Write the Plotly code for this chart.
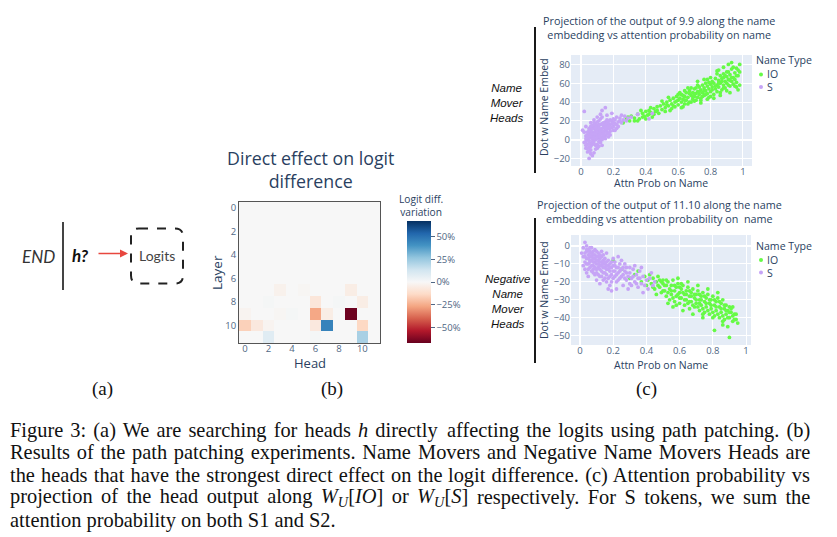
import plotly.graph_objects as go

# the page body keeps an 8px margin, so the figure is drawn 8px smaller
# and every position below is given in page pixels of the final picture
OFF = 8
W, H = 837 - OFF, 537 - OFF


def fx(p):
    return (p - OFF) / W


def fy(p):
    return 1 - (p - OFF) / H


# ---- (b) heatmap: direct effect per head, in percent ----
layers = list(range(12))
heads = list(range(12))
effect = [
    [0, 0, 0, 0, 0, 0, 0, 0, 0, 0, 0, 0],
    [0, 0, 0, 0, 0, 0, 0, 0, 0, 0, 0, 0],
    [0, 0, 0, 0, 0, 0, 0, 0, 0, 0, 0, 0],
    [0, 0, 0, 0, 0, 0, 0, 0, 0, 0, 0, 0],
    [0, 0, 0, 0, 0, 0, 0, 0, 0, 0, 0, 0],
    [0, 0, 0, 0, 0, 0, 0, 0, 0, 0, 0, 0],
    [0, 0, 0, 0, 0, 0, 0, 0, 0, 0, 0, 0],
    [0, 0, 0, -3, 0, -1, 0, 0, 0, -5, 0, 0],
    [0, 0, 1, 0, 0, 0, -8, 0, 1, 0, -5, 0],
    [-2, 0, 0, -1, 1, 0, -26, -5, 0, -66, 0, 0],
    [-16, -7, -2, 0, 0, 0, -7, 45, 0, 0, -14, 0],
    [0, 0, 8, 0, 0, 0, 1, 0, 0, 0, 22, 0],
]
cbar_ticks = [-50, -25, 0, 25, 50]
cbar_text = ["\u221250%", "\u221225%", "0%", "25%", "50%"]

# ---- (c) top: head 9.9, (attn prob, dot with name embed) ----
nm_io = [
    (0.26, 18), (0.28, 22), (0.30, 20), (0.31, 25), (0.33, 23), (0.35, 27), (0.36, 22), (0.38, 28), (0.39, 25), (0.40, 30),
    (0.41, 26), (0.42, 31), (0.43, 29), (0.44, 24), (0.45, 33), (0.46, 30), (0.47, 35), (0.48, 28), (0.49, 36), (0.50, 32),
    (0.51, 38), (0.52, 34), (0.53, 40), (0.54, 36), (0.55, 31), (0.55, 42), (0.56, 38), (0.57, 44), (0.58, 35), (0.58, 40),
    (0.59, 46), (0.60, 42), (0.60, 37), (0.61, 44), (0.62, 40), (0.62, 48), (0.63, 43), (0.64, 38), (0.64, 46), (0.65, 50),
    (0.65, 42), (0.66, 45), (0.67, 40), (0.67, 52), (0.68, 47), (0.69, 43), (0.69, 50), (0.70, 46), (0.70, 54), (0.71, 49),
    (0.71, 42), (0.72, 51), (0.72, 45), (0.73, 56), (0.73, 48), (0.74, 53), (0.74, 44), (0.75, 50), (0.75, 58), (0.76, 47),
    (0.76, 55), (0.77, 52), (0.77, 60), (0.78, 49), (0.78, 57), (0.79, 54), (0.79, 45), (0.80, 59), (0.80, 51), (0.81, 62),
    (0.81, 56), (0.82, 48), (0.82, 60), (0.83, 54), (0.83, 65), (0.84, 58), (0.84, 51), (0.85, 63), (0.85, 56), (0.86, 68),
    (0.86, 60), (0.87, 53), (0.87, 65), (0.88, 58), (0.88, 70), (0.89, 62), (0.89, 55), (0.90, 67), (0.90, 60), (0.91, 72),
    (0.91, 64), (0.92, 57), (0.92, 69), (0.93, 62), (0.93, 75), (0.94, 66), (0.94, 59), (0.95, 71), (0.95, 64), (0.96, 56),
    (0.96, 76), (0.97, 68), (0.97, 53), (0.98, 80), (0.93, 82), (0.91, 80), (0.88, 77), (0.85, 74), (0.96, 61), (0.98, 72),
    (0.35, 20), (0.40, 22), (0.45, 27), (0.52, 30), (0.57, 36), (0.63, 35), (0.68, 40), (0.74, 42), (0.80, 46), (0.86, 50),
    (0.37, 31), (0.43, 34), (0.50, 41), (0.54, 45), (0.61, 50), (0.66, 55), (0.72, 58), (0.78, 64), (0.84, 70), (0.90, 52),
    (0.60, 48), (0.62, 34), (0.64, 52), (0.66, 38), (0.68, 55), (0.70, 41), (0.72, 62), (0.74, 39), (0.76, 64), (0.78, 43),
    (0.80, 66), (0.82, 44), (0.84, 73), (0.86, 47), (0.88, 66), (0.90, 72), (0.92, 50), (0.94, 77), (0.96, 68), (0.98, 58),
    (0.59, 41), (0.63, 47), (0.67, 49), (0.71, 55), (0.75, 46), (0.79, 61), (0.83, 57), (0.87, 62), (0.91, 58), (0.95, 57),
    (0.69, 46), (0.73, 51), (0.77, 48), (0.81, 53), (0.85, 60), (0.89, 68), (0.93, 66), (0.97, 74), (0.88, 55), (0.92, 63),
    (0.56, 33), (0.53, 37), (0.47, 31), (0.42, 27), (0.38, 24), (0.33, 20), (0.29, 24), (0.64, 42), (0.70, 49), (0.76, 52),
]
nm_s = [
    (0.03, -2), (0.04, 5), (0.05, -8), (0.05, 3), (0.06, 10), (0.06, -4), (0.07, 1), (0.07, 8), (0.08, -1), (0.08, 12),
    (0.09, 4), (0.09, -6), (0.10, 6), (0.10, 15), (0.11, 2), (0.11, 9), (0.12, 11), (0.12, -3), (0.13, 7), (0.13, 17),
    (0.14, 5), (0.14, 13), (0.15, 10), (0.15, 19), (0.16, 8), (0.16, 14), (0.17, 12), (0.18, 16), (0.18, 9), (0.19, 20),
    (0.20, 14), (0.20, 22), (0.21, 17), (0.22, 12), (0.23, 19), (0.24, 23), (0.25, 18), (0.26, 21), (0.27, 25), (0.28, 20),
    (0.02, 30), (0.15, 34), (0.13, 31), (0.05, -20), (0.07, -17), (0.04, -13), (0.06, -11), (0.03, -9), (0.08, -14), (0.10, -9),
    (0.04, 0), (0.05, 7), (0.06, 2), (0.07, -5), (0.08, 5), (0.09, 9), (0.10, 1), (0.11, -2), (0.12, 6), (0.13, 3),
    (0.03, 4), (0.04, -5), (0.06, 6), (0.07, 12), (0.08, 8), (0.09, 0), (0.10, 11), (0.11, 13), (0.12, 16), (0.14, 9),
    (0.15, 4), (0.16, 18), (0.17, 7), (0.18, 21), (0.19, 13), (0.21, 10), (0.22, 24), (0.09, 17), (0.11, 20), (0.13, 24),
    (0.02, -3), (0.02, 8), (0.03, 14), (0.05, 12), (0.06, 18), (0.08, 21), (0.10, 24), (0.12, 27), (0.16, 26), (0.19, 28),
    (0.04, 2), (0.05, -1), (0.06, -7), (0.07, 4), (0.08, -4), (0.09, 11), (0.10, 3), (0.11, 6), (0.12, 0), (0.14, 15),
    (0.16, 11), (0.17, 17), (0.23, 14), (0.25, 26), (0.29, 23), (0.31, 24), (0.42, 22), (0.44, 28), (0.35, 27), (0.01, 10),
    (0.04, 8), (0.05, 10), (0.05, -4), (0.06, 4), (0.06, 14), (0.07, 6), (0.07, -2), (0.08, 2), (0.08, 15), (0.09, 6),
    (0.09, 13), (0.10, 8), (0.10, -5), (0.11, 4), (0.11, 16), (0.12, 9), (0.12, 3), (0.13, 12), (0.13, 0), (0.14, 7),
    (0.14, 18), (0.15, 13), (0.15, 1), (0.16, 6), (0.16, 21), (0.17, 14), (0.17, 3), (0.18, 12), (0.19, 17), (0.20, 10),
    (0.03, 1), (0.03, -6), (0.04, -9), (0.05, -12), (0.06, -15), (0.07, 15), (0.08, 18), (0.09, -10), (0.10, 19), (0.11, -7),
    (0.12, 22), (0.13, -6), (0.14, 2), (0.15, 16), (0.17, 20), (0.18, 5), (0.20, 18), (0.21, 21), (0.22, 16), (0.24, 20),
]

# ---- (c) bottom: head 11.10 ----
nnm_io = [
    (0.20, -8), (0.25, -13), (0.30, -18), (0.33, -16), (0.35, -14), (0.37, -20), (0.39, -17), (0.40, -22), (0.41, -19), (0.42, -16),
    (0.43, -21), (0.44, -18), (0.45, -24), (0.46, -20), (0.47, -17), (0.48, -23), (0.49, -26), (0.50, -21), (0.50, -19), (0.51, -25),
    (0.52, -22), (0.52, -28), (0.53, -20), (0.54, -24), (0.54, -30), (0.55, -22), (0.55, -27), (0.56, -19), (0.57, -25), (0.57, -31),
    (0.58, -23), (0.58, -28), (0.59, -21), (0.60, -26), (0.60, -32), (0.61, -24), (0.61, -29), (0.62, -22), (0.63, -27), (0.63, -33),
    (0.64, -25), (0.64, -30), (0.65, -23), (0.66, -28), (0.66, -35), (0.67, -26), (0.67, -31), (0.68, -24), (0.69, -29), (0.69, -34),
    (0.70, -27), (0.70, -32), (0.71, -25), (0.72, -30), (0.72, -36), (0.73, -28), (0.73, -33), (0.74, -26), (0.75, -31), (0.75, -37),
    (0.76, -29), (0.76, -34), (0.77, -27), (0.78, -32), (0.78, -38), (0.79, -30), (0.79, -35), (0.80, -28), (0.81, -33), (0.81, -39),
    (0.82, -31), (0.82, -36), (0.83, -29), (0.84, -34), (0.84, -40), (0.85, -32), (0.85, -37), (0.86, -30), (0.87, -35), (0.87, -41),
    (0.88, -33), (0.88, -38), (0.89, -36), (0.90, -34), (0.90, -40), (0.91, -37), (0.92, -42), (0.93, -38), (0.94, -41), (0.95, -43),
    (0.81, -47), (0.90, -51), (0.86, -44), (0.92, -34), (0.89, -45), (0.53, -32), (0.56, -34), (0.62, -36), (0.68, -38), (0.74, -40),
    (0.46, -27), (0.48, -19), (0.59, -18), (0.65, -20), (0.71, -22), (0.77, -24), (0.83, -26), (0.60, -23), (0.66, -25), (0.72, -27),
    (0.50, -25), (0.51, -22), (0.53, -26), (0.55, -25), (0.56, -29), (0.57, -22), (0.59, -27), (0.60, -29), (0.62, -26), (0.63, -30),
    (0.64, -27), (0.65, -32), (0.66, -31), (0.67, -28), (0.68, -33), (0.69, -27), (0.70, -30), (0.71, -34), (0.72, -32), (0.73, -30),
    (0.74, -35), (0.75, -28), (0.76, -32), (0.77, -36), (0.78, -30), (0.79, -33), (0.80, -37), (0.81, -30), (0.82, -34), (0.83, -38),
    (0.84, -31), (0.85, -35), (0.86, -39), (0.87, -33), (0.88, -36), (0.89, -40), (0.90, -37), (0.91, -35), (0.92, -39), (0.93, -41),
    (0.44, -23), (0.47, -22), (0.49, -20), (0.52, -19), (0.58, -33), (0.61, -21), (0.74, -38), (0.80, -40), (0.86, -42), (0.94, -38),
]
nnm_s = [
    (0.02, -1), (0.02, -6), (0.03, 2), (0.03, -4), (0.03, -9), (0.04, 0), (0.04, -3), (0.04, -7), (0.05, -2), (0.05, -5),
    (0.05, -10), (0.06, -1), (0.06, -6), (0.06, -12), (0.07, -4), (0.07, -8), (0.07, -14), (0.08, -3), (0.08, -7), (0.08, -11),
    (0.09, -5), (0.09, -9), (0.09, -16), (0.10, -6), (0.10, -10), (0.10, -13), (0.11, -4), (0.11, -8), (0.11, -12), (0.12, -7),
    (0.12, -11), (0.12, -17), (0.13, -6), (0.13, -9), (0.13, -14), (0.14, -8), (0.14, -12), (0.14, -19), (0.15, -7), (0.15, -10),
    (0.15, -15), (0.16, -9), (0.16, -13), (0.16, -20), (0.17, -11), (0.17, -8), (0.18, -14), (0.18, -10), (0.18, -22), (0.19, -12),
    (0.19, -16), (0.20, -11), (0.20, -18), (0.20, -7), (0.21, -14), (0.22, -12), (0.22, -20), (0.23, -15), (0.24, -10), (0.24, -18),
    (0.25, -13), (0.26, -16), (0.26, -22), (0.27, -14), (0.28, -19), (0.28, -12), (0.29, -17), (0.30, -21), (0.30, -15), (0.31, -18),
    (0.32, -13), (0.33, -20), (0.34, -16), (0.35, -23), (0.35, -18), (0.36, -14), (0.37, -21), (0.38, -17), (0.38, -26), (0.40, -19),
    (0.41, -24), (0.42, -18), (0.44, -22), (0.19, -25), (0.17, -24), (0.22, -24), (0.12, -21), (0.10, -19), (0.02, -11), (0.01, -4),
    (0.03, -13), (0.04, -15), (0.05, -17), (0.06, -3), (0.07, -1), (0.08, -15), (0.09, -2), (0.10, -3), (0.11, -16), (0.13, -3),
    (0.14, -5), (0.16, -4), (0.21, -9), (0.23, -6), (0.25, -8), (0.27, -10), (0.29, -24), (0.33, -11), (0.37, -12), (0.43, -15),
    (0.45, -20), (0.06, -8), (0.08, -5), (0.12, -9), (0.15, -12),
    (0.03, -6), (0.04, -10), (0.04, -2), (0.05, -7), (0.05, -13), (0.06, -4), (0.06, -9), (0.07, -6), (0.07, -11), (0.08, -9),
    (0.08, -13), (0.09, -7), (0.09, -12), (0.10, -8), (0.10, -15), (0.11, -10), (0.11, -6), (0.12, -13), (0.12, -5), (0.13, -11),
    (0.13, -17), (0.14, -10), (0.14, -15), (0.15, -9), (0.15, -18), (0.16, -11), (0.16, -16), (0.17, -13), (0.17, -18), (0.18, -12),
    (0.18, -17), (0.19, -9), (0.19, -20), (0.20, -14), (0.21, -17), (0.21, -11), (0.22, -16), (0.23, -19), (0.23, -12), (0.24, -14),
    (0.25, -17), (0.26, -12), (0.27, -18), (0.28, -15), (0.30, -12), (0.31, -22), (0.32, -17), (0.34, -21), (0.36, -18), (0.39, -22),
]

IO_COL = "rgb(102,250,70)"
S_COL = "rgb(198,164,246)"
INK = "#2a3f5f"
TICK = "#506784"
rdbu = ["rgb(103,0,31)", "rgb(178,24,43)", "rgb(214,96,77)", "rgb(244,165,130)",
        "rgb(253,219,199)", "rgb(247,247,247)", "rgb(209,229,240)", "rgb(146,197,222)",
        "rgb(67,147,195)", "rgb(33,102,172)", "rgb(5,48,97)"]

fig = go.Figure()

fig.add_trace(go.Heatmap(
    z=effect, x=heads, y=layers, colorscale=rdbu, zmin=-67, zmax=67,
    xaxis="x", yaxis="y",
    colorbar=dict(x=fx(407), xanchor="left", xpad=0, ypad=0, y=fy(343), yanchor="bottom",
                  len=122 / H, lenmode="fraction", thickness=24, outlinewidth=0,
                  tickvals=cbar_ticks, ticktext=cbar_text, ticks="outside", ticklen=4,
                  tickcolor=TICK, tickfont=dict(size=9.5, color=TICK)),
))

for pts, col, ax in [(nm_io, IO_COL, 2), (nm_s, S_COL, 2), (nnm_io, IO_COL, 3), (nnm_s, S_COL, 3)]:
    fig.add_trace(go.Scatter(
        x=[p[0] for p in pts], y=[p[1] for p in pts], mode="markers",
        marker=dict(color=col, size=3.8, line=dict(width=0)),
        xaxis="x%d" % ax, yaxis="y%d" % ax, showlegend=False,
    ))

tick_font = dict(size=9.5, color=TICK)
scatter_x = dict(gridcolor="white", zerolinecolor="white", zerolinewidth=2, dtick=0.2, tick0=0,
                 tickfont=tick_font, ticks="", ticklabelstandoff=-2)
scatter_y = dict(gridcolor="white", zerolinecolor="white", zerolinewidth=2, tickfont=tick_font, ticks="")

fig.update_layout(
    width=W, height=H, margin=dict(l=0, r=0, t=0, b=0),
    paper_bgcolor="white", plot_bgcolor="#E5ECF6", showlegend=False,
    font=dict(family="Open Sans", color=INK),
    xaxis=dict(domain=[fx(239), fx(380)], range=[-0.5, 11.5], tickvals=[0, 2, 4, 6, 8, 10],
               showgrid=False, zeroline=False, showline=True, mirror=True, linecolor="#555",
               linewidth=1, tickfont=dict(size=9.5, color=TICK), ticklabelstandoff=-3),
    yaxis=dict(domain=[fy(343), fy(202)], range=[11.5, -0.5], tickvals=[0, 2, 4, 6, 8, 10],
               showgrid=False, zeroline=False, showline=True, mirror=True, linecolor="#555",
               linewidth=1, tickfont=dict(size=9.5, color=TICK)),
    xaxis2=dict(domain=[fx(571), fx(752)], range=[-0.062, 1.056], anchor="y2", **scatter_x),
    yaxis2=dict(domain=[fy(166), fy(55)], range=[-28, 90], dtick=20, anchor="x2", **scatter_y),
    xaxis3=dict(domain=[fx(571), fx(751)], range=[-0.054, 1.03], anchor="y3", **scatter_x),
    yaxis3=dict(domain=[fy(345), fy(235)], range=[-55.2, 6.1], dtick=10, anchor="x3", **scatter_y),
)

ann = []
shapes = []


def text(x, y, s, size, color=INK, family="Open Sans", anchor="center", angle=0):
    ann.append(dict(x=max(fx(x), 0), y=fy(y), xref="paper", yref="paper", text=s, showarrow=False,
                    xanchor=anchor, yanchor="middle", textangle=angle,
                    font=dict(size=size, color=color, family=family)))


# (b) titles
text(310, 169.5, "Direct effect on logit<br>difference", 17.8)
text(217, 273, "Layer", 13.5, angle=-90)
text(310, 363, "Head", 13)
text(421, 205, "Logit diff.<br>variation", 10.2)

# (c) titles, axis titles and legends
text(659, 27.5, "Projection of the output of 9.9 along the name<br>embedding vs attention probability on name", 10.8)
text(659, 211, "Projection of the output of 11.10 along the name<br>embedding vs attention probability on  name", 10.8)
text(544, 107, "Dot w Name Embed", 10.5, angle=-90)
text(661, 183.5, "Attn Prob on Name", 10.5)
text(544, 290, "Dot w Name Embed", 10.5, angle=-90)
text(661, 364.5, "Attn Prob on Name", 10.5)

for ly in [60.5, 246]:
    text(754, ly, "Name Type", 10.6, anchor="left")
    for dy, lab, col in [(14, "IO", IO_COL), (26.5, "S", S_COL)]:
        text(765, ly + dy, lab, 10.5, anchor="left")
        shapes.append(dict(type="circle", xref="paper", yref="paper",
                           x0=fx(759), x1=fx(763), y0=fy(ly + dy + 2), y1=fy(ly + dy - 2),
                           fillcolor=col, line=dict(width=0)))

# left bracket lines and labels of (c)
for y0, y1 in [(27, 173), (218, 363)]:
    shapes.append(dict(type="line", xref="paper", yref="paper", x0=fx(535), x1=fx(535),
                       y0=fy(y0), y1=fy(y1), line=dict(color="black", width=1.8)))
text(507, 103, "<i>Name<br>Mover<br>Heads</i>", 11.5, color="#111", family="Liberation Sans")
text(507, 301, "<i>Negative<br>Name<br>Mover<br>Heads</i>", 11.5, color="#111", family="Liberation Sans")

# (a) diagram
text(38, 256, "<i>END</i>", 17, color="#333", family="Lato")
text(80.5, 255, "<b><i>h?</i></b>", 17, color="#111", family="Lato")
text(157, 255, "Logits", 14, color="#444", family="Lato")
shapes.append(dict(type="line", xref="paper", yref="paper", x0=fx(63), x1=fx(63),
                   y0=fy(222), y1=fy(290), line=dict(color="#444", width=2)))
bx0, bx1, by0, by1, r = 131, 183, 228.5, 283.5, 8
path = ("M {a},{t} L {b},{t} Q {c},{t} {c},{t2} L {c},{b2} Q {c},{bt} {b},{bt} "
        "L {a},{bt} Q {d},{bt} {d},{b2} L {d},{t2} Q {d},{t} {a},{t} Z").format(
    a=fx(bx0 + r), b=fx(bx1 - r), c=fx(bx1), d=fx(bx0),
    t=fy(by0), t2=fy(by0 + r), b2=fy(by1 - r), bt=fy(by1))
shapes.append(dict(type="path", xref="paper", yref="paper", path=path,
                   line=dict(color="#222", width=2, dash="dash")))
ann.append(dict(x=fx(128), y=fy(253.5), xref="paper", yref="paper", text="", showarrow=True,
                ax=-31, ay=0, arrowhead=2, arrowsize=1, arrowwidth=1.6, arrowcolor="#e8473f"))

# sub-figure labels and caption
SERIF = "Liberation Serif"
text(102, 389, "(a)", 19, color="#111", family=SERIF)
text(332, 389, "(b)", 19, color="#111", family=SERIF)
text(646, 389, "(c)", 19, color="#111", family=SERIF)

# justified lines: left half, right half, extra space between words (px)
caption = [
    ("Figure 3: (a) We are searching for heads <i>h</i> directly",
     "affecting the logits using path patching. (b)", 2.0),
    ("Results of the path patching experiments. Name",
     "Movers and Negative Name Movers Heads are", 1.6),
    ("the heads that have the strongest direct effect on the",
     "logit difference. (c) Attention probability vs", 1.1),
    ("projection of the head output along <i>W</i><sub><i>U</i></sub>[<i>IO</i>] or <i>W</i><sub><i>U</i></sub>[<i>S</i>]",
     "respectively. For S tokens, we sum the", 3.3),
    ("attention probability on both S1 and S2.", "", 0),
]
for i, (left, right, ws) in enumerate(caption):
    yy = 430 + i * 22.6
    style = '<span style="word-spacing:%.1fpx">' % ws
    text(1, yy, style + left + "</span>", 20.4, color="#111", family=SERIF, anchor="left")
    if right:
        text(812, yy, style + right + "</span>", 20.4, color="#111", family=SERIF, anchor="right")

fig.update_layout(annotations=ann, shapes=shapes)
fig.write_html("out.html")
